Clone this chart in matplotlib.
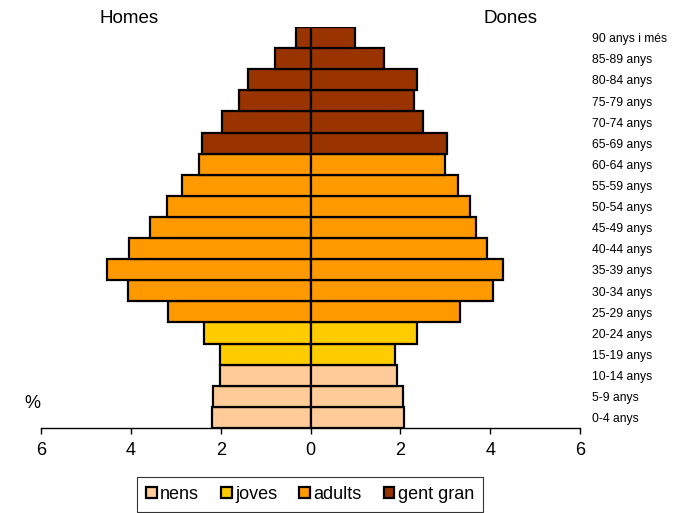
import matplotlib
matplotlib.use("Agg")
import matplotlib.pyplot as plt
from matplotlib.patches import Patch

plt.rcParams["font.family"] = ["Liberation Sans", "DejaVu Sans"]

# grups d'edat, de baix a dalt
edats = ["0-4 anys", "5-9 anys", "10-14 anys", "15-19 anys", "20-24 anys",
         "25-29 anys", "30-34 anys", "35-39 anys", "40-44 anys", "45-49 anys",
         "50-54 anys", "55-59 anys", "60-64 anys", "65-69 anys", "70-74 anys",
         "75-79 anys", "80-84 anys", "85-89 anys", "90 anys i més"]

homes = [2.20, 2.18, 2.02, 2.02, 2.38, 3.18, 4.07, 4.52, 4.03, 3.57,
         3.20, 2.85, 2.49, 2.42, 1.96, 1.60, 1.40, 0.78, 0.33]
dones = [2.09, 2.07, 1.92, 1.89, 2.36, 3.33, 4.06, 4.29, 3.92, 3.69,
         3.56, 3.29, 2.99, 3.04, 2.51, 2.31, 2.36, 1.64, 1.00]

grups = ["nens"] * 3 + ["joves"] * 2 + ["adults"] * 8 + ["gent gran"] * 6
colors = {"nens": "#FFCC99", "joves": "#FFCC00", "adults": "#FF9900",
          "gent gran": "#993300"}

fig = plt.figure(figsize=(6.81, 5.13), dpi=100)
ax = fig.add_axes([41 / 681, 1 - 428 / 513, 539 / 681, 401 / 513])

y = list(range(len(edats)))
c = [colors[g] for g in grups]
ax.barh(y, [-v for v in homes], height=1.0, color=c, edgecolor="black", linewidth=1.6)
ax.barh(y, dones, height=1.0, color=c, edgecolor="black", linewidth=1.6)

ax.set_xlim(-6, 6)
ax.set_ylim(-0.5, len(edats) - 0.5)
ax.set_xticks([-6, -4, -2, 0, 2, 4, 6])
ax.set_xticklabels(["6", "4", "2", "0", "2", "4", "6"], fontsize=13)
ax.set_yticks([])
for s in ["top", "right", "left"]:
    ax.spines[s].set_visible(False)
ax.spines["bottom"].set_linewidth(1.0)
ax.tick_params(axis="x", length=4, width=1, pad=6)

tr = ax.get_yaxis_transform()
for i, e in enumerate(edats):
    ax.text((592 - 41) / 539, i - 0.08, e, transform=tr, fontsize=8.7,
            ha="left", va="center")

fig.text(129 / 681, 1 - 19 / 513, "Homes", fontsize=13.5, ha="center", va="center")
fig.text(510 / 681, 1 - 19 / 513, "Dones", fontsize=13.5, ha="center", va="center")
fig.text(32 / 681, 1 - 403 / 513, "%", fontsize=13, ha="center", va="center")

handles = [Patch(facecolor=colors[k], edgecolor="black", linewidth=1.6, label=k)
           for k in colors]
leg = fig.legend(handles=handles, ncol=4, loc="upper center",
                 bbox_to_anchor=(310 / 681, 1 - 477 / 513), fontsize=13,
                 frameon=True, fancybox=False, edgecolor="black",
                 handlelength=0.6, handleheight=0.6, handletextpad=0.2,
                 columnspacing=1.2, borderpad=0.5, borderaxespad=0)
leg.get_frame().set_linewidth(0.8)

fig.savefig("out.png", dpi=100)
